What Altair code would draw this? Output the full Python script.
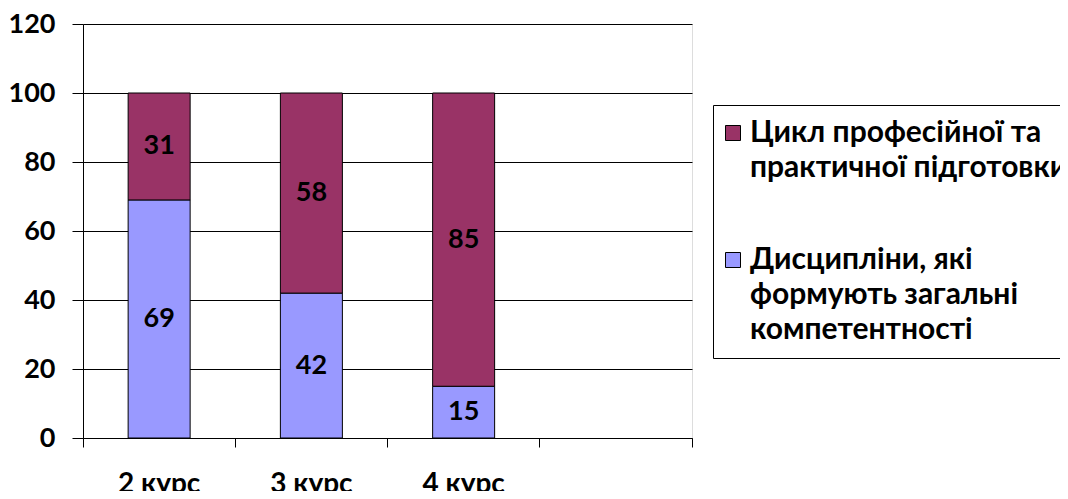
import altair as alt
import pandas as pd

courses = ["2 курс", "3 курс", "4 курс"]
axis_slots = ["2 курс", "3 курс", "4 курс", " "]
series_prof = "Цикл професійної та\nпрактичної підготовки"
series_gen = "Дисципліни, які\nформують загальні\nкомпетентності"
general = [69, 42, 15]
professional = [31, 58, 85]
colors = ["#993366", "#9999FF"]
y_ticks = [0, 20, 40, 60, 80, 100, 120]

rows = []
for i, c in enumerate(courses):
    rows.append({"course": c, "series": series_gen, "value": general[i], "order": 0})
    rows.append({"course": c, "series": series_prof, "value": professional[i], "order": 1})
df = pd.DataFrame(rows)

FONT = "Lato, 'Noto Sans', sans-serif"
FS_NUM = 27
FS_X = 28
FS_LEG = 30
W, H = 609, 414

base = alt.Chart(df).transform_stack(
    stack="value", groupby=["course"], as_=["y0", "y1"],
    sort=[alt.SortField("order", order="ascending")],
).transform_calculate(mid="(datum.y0 + datum.y1) / 2")

x_enc = alt.X(
    "course:N",
    scale=alt.Scale(domain=axis_slots, paddingInner=0, paddingOuter=0),
    axis=alt.Axis(
        title=None, labelAngle=0, bandPosition=1, tickExtra=True, tickSize=9,
        labelPadding=23, domainColor="black", tickColor="black", grid=False,
        labelFont=FONT, labelFontSize=FS_X, labelFontWeight="bold", labelColor="black",
    ),
)

bars = base.mark_bar(width=62, stroke="black", strokeWidth=1).encode(
    x=x_enc,
    y=alt.Y(
        "y0:Q",
        scale=alt.Scale(domain=[0, 120], nice=False),
        axis=alt.Axis(
            values=y_ticks, title=None, grid=True, gridColor="black", gridOpacity=1,
            gridWidth=1, tickSize=11, labelPadding=17, domainColor="black",
            tickColor="black", labelFont=FONT, labelFontSize=FS_NUM, labelFontWeight="bold",
            labelColor="black",
        ),
    ),
    y2="y1:Q",
    color=alt.Color(
        "series:N",
        scale=alt.Scale(domain=[series_prof, series_gen], range=colors),
        legend=alt.Legend(
            orient="none", legendX=630, legendY=81, title=None,
            fillColor="white", strokeColor="black", padding=13,
            symbolType="square", symbolSize=225, symbolStrokeColor="black",
            symbolStrokeWidth=1, symbolOpacity=1, symbolOffset=-8,
            labelFont=FONT, labelFontSize=FS_LEG, labelFontWeight="bold", labelColor="black",
            labelLimit=0, labelOffset=2, rowPadding=62,
            labelExpr="split(datum.label, '\\n')",
        ),
    ),
)

labels = base.mark_text(
    font=FONT, fontSize=FS_NUM, fontWeight="bold", color="black", baseline="middle"
).encode(
    x=alt.X("course:N", scale=alt.Scale(domain=axis_slots, paddingInner=0, paddingOuter=0)),
    y=alt.Y("mid:Q"),
    text=alt.Text("value:Q"),
)

chart = alt.layer(bars, labels).properties(
    width=W, height=H,
    autosize=alt.AutoSizeParams(type="none"),
    padding={"left": 75, "top": 16, "right": 368, "bottom": 53},
    background="white",
).configure_view(
    fill="#C0C0C0", stroke="black", strokeWidth=1
).configure(
    style={"guide-label": {"lineHeight": 35}}
)

chart.save("out.html", embed_options={"renderer": "svg", "actions": False})
